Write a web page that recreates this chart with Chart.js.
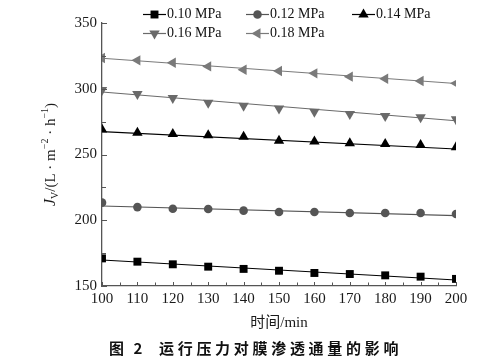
<!DOCTYPE html>
<html>
<head>
<meta charset="utf-8">
<script src="https://cdn.jsdelivr.net/npm/chart.js@4/dist/chart.umd.min.js"></script>
<style>
html,body{margin:0;padding:0;background:#fff;}
#wrap{position:relative;width:493px;height:360px;overflow:hidden;}
#c{position:absolute;left:0;top:0;}
.cap{position:absolute;top:338px;font:bold 15px "Noto Sans CJK SC",sans-serif;color:#111;white-space:nowrap;line-height:20px;}
</style>
</head>
<body>
<div id="wrap">
<canvas id="c" width="493" height="360"></canvas>
<span class="cap" style="left:109px;letter-spacing:3px;">图 2</span>
<span class="cap" style="left:159px;letter-spacing:3.7px;">运行压力对膜渗透通量的影响</span>
</div>
<script>
const times = [100,110,120,130,140,150,160,170,180,190,200];
const seriesNames = ['0.10 MPa','0.12 MPa','0.14 MPa','0.16 MPa','0.18 MPa'];
const flux010 = [171.0,168.5,166.5,164.7,163.0,161.6,159.9,159.1,158.1,157.1,155.4];
const flux012 = [213.4,210.0,208.8,208.6,207.3,206.3,206.3,205.5,205.5,205.5,204.8];
const flux014 = [269.0,266.6,265.6,264.6,263.5,260.5,259.8,258.5,258.0,257.2,255.5];
const flux016 = [299.0,296.0,293.0,289.4,287.0,285.0,282.5,280.8,279.3,278.3,276.8];
const flux018 = [323.4,321.6,319.8,317.0,314.5,313.5,311.7,309.2,307.6,305.9,304.1];
const fitTimes = [100,200];
const fit010 = [169.8,154.6];
const fit012 = [210.8,203.5];
const fit014 = [267.4,254.2];
const fit016 = [297.5,275.7];
const fit018 = [323.2,304.0];
const yTicks = [150,200,250,300,350];
const xTicks = times;

const styles = [
  {color:'#000000', pointStyle:'rect', rotation:0, radius:5.6},
  {color:'#555555', pointStyle:'circle', rotation:0, radius:4.3},
  {color:'#000000', pointStyle:'triangle', rotation:0, radius:6},
  {color:'#6a6a6a', pointStyle:'triangle', rotation:180, radius:6},
  {color:'#7a7a7a', pointStyle:'triangle', rotation:-90, radius:6}
];
const fluxes = [flux010,flux012,flux014,flux016,flux018];
const fits = [fit010,fit012,fit014,fit016,fit018];

const datasets = [];
fits.forEach((f,i)=>{
  datasets.push({
    label: seriesNames[i]+' fit',
    data: fitTimes.map((t,k)=>({x:t,y:f[k]})),
    borderColor: styles[i].color, borderWidth: 1.1,
    pointRadius: 0, showLine: true, fill:false, order: 2
  });
});
fluxes.forEach((f,i)=>{
  datasets.push({
    label: seriesNames[i],
    data: times.map((t,k)=>({x:t,y:f[k]})),
    showLine: false,
    pointStyle: styles[i].pointStyle,
    rotation: styles[i].rotation,
    pointRadius: styles[i].radius,
    backgroundColor: styles[i].color,
    borderColor: styles[i].color,
    pointBorderWidth: 0,
    order: 1
  });
});

const SERIF = '"Liberation Serif","Times New Roman",serif';

function drawMarker(ctx, st, x, y){
  ctx.save();
  ctx.fillStyle = st.color;
  ctx.strokeStyle = st.color;
  if (Chart.helpers && Chart.helpers.drawPoint) {
    Chart.helpers.drawPoint(ctx, {pointStyle: st.pointStyle, rotation: st.rotation, radius: st.radius, borderWidth: 0}, x, y);
  } else {
    ctx.beginPath(); ctx.arc(x,y,st.radius,0,Math.PI*2); ctx.fill();
  }
  ctx.restore();
}

const customPlugin = {
  id: 'custom',
  afterDraw(chart){
    const ctx = chart.ctx;
    const xs = chart.scales.x, ys = chart.scales.y;
    const ca = chart.chartArea;
    ctx.save();
    // inside ticks
    ctx.strokeStyle = '#555';
    ctx.lineWidth = 1;
    for (let v = 100; v <= 200; v += 5) {
      const px = Math.round(xs.getPixelForValue(v)) + 0.5;
      ctx.beginPath(); ctx.moveTo(px, ca.bottom); ctx.lineTo(px, ca.bottom - (v % 10 === 0 ? 4 : 3.5)); ctx.stroke();
    }
    for (let v = 150; v <= 350; v += 25) {
      const py = Math.round(ys.getPixelForValue(v)) + 0.5;
      ctx.beginPath(); ctx.moveTo(ca.left, py); ctx.lineTo(ca.left + (v % 50 === 0 ? 5 : 4), py); ctx.stroke();
    }
    // x title
    ctx.fillStyle = '#1a1a1a';
    ctx.font = '15px ' + SERIF + ',"Noto Sans CJK SC"';
    ctx.textAlign = 'center'; ctx.textBaseline = 'middle';
    ctx.fillText('时间/min', (ca.left + ca.right)/2, 323);
    // y title (rotated with sub/superscripts)
    const parts = [
      {t:'J', font:'italic 16px ' + SERIF, dy:0},
      {t:'V', font:'10px ' + SERIF, dy:4},
      {t:'/(L · m', font:'15px ' + SERIF, dy:0},
      {t:'\u22122', font:'10px ' + SERIF, dy:-6},
      {t:' · h', font:'15px ' + SERIF, dy:0},
      {t:'\u22121', font:'10px ' + SERIF, dy:-6},
      {t:')', font:'15px ' + SERIF, dy:0}
    ];
    let total = 0;
    parts.forEach(p=>{ ctx.font = p.font; p.w = ctx.measureText(p.t).width; total += p.w; });
    ctx.translate(51, (ca.top + ca.bottom)/2);
    ctx.rotate(-Math.PI/2);
    ctx.textAlign = 'left'; ctx.textBaseline = 'middle';
    let cx = -total/2;
    parts.forEach(p=>{ ctx.font = p.font; ctx.fillText(p.t, cx, p.dy); cx += p.w; });
    ctx.restore();

    // legend
    const cols = [143, 246, 352];
    const rows = [14.5, 33.5];
    ctx.save();
    seriesNames.forEach((name,i)=>{
      const col = cols[i % 3], row = rows[Math.floor(i / 3)];
      const st = styles[i];
      ctx.strokeStyle = st.color; ctx.lineWidth = 1.2;
      ctx.beginPath(); ctx.moveTo(col, row); ctx.lineTo(col + 23, row); ctx.stroke();
      drawMarker(ctx, st, col + 11.5, row);
      ctx.fillStyle = '#111';
      ctx.font = '14px ' + SERIF;
      ctx.textAlign = 'left'; ctx.textBaseline = 'middle';
      ctx.fillText(name, col + 24, row);
    });
    ctx.restore();
  }
};

new Chart(document.getElementById('c'), {
  type: 'scatter',
  data: { datasets },
  options: {
    responsive: false,
    animation: false,
    events: [],
    layout: { padding: { left: 0, right: 37, top: 23, bottom: 0 } },
    plugins: { legend: { display: false }, tooltip: { enabled: false }, title: { display: false } },
    scales: {
      x: {
        type: 'linear', min: 100, max: 200,
        afterBuildTicks: s => { s.ticks = xTicks.map(v => ({value: v})); },
        afterFit: s => { s.height = 74; },
        grid: { display: false, drawTicks: false },
        border: { display: true, color: '#555', width: 1.3 },
        ticks: { padding: 4, color: '#1a1a1a', font: { family: SERIF, size: 15 }, maxRotation: 0, autoSkip: false }
      },
      y: {
        type: 'linear', min: 150, max: 350,
        afterBuildTicks: s => { s.ticks = yTicks.map(v => ({value: v})); },
        afterFit: s => { s.width = 102; },
        grid: { display: false, drawTicks: false },
        border: { display: true, color: '#555', width: 1.3 },
        ticks: { padding: 5, color: '#1a1a1a', font: { family: SERIF, size: 15 } }
      }
    }
  },
  plugins: [customPlugin]
});
</script>
</body>
</html>
